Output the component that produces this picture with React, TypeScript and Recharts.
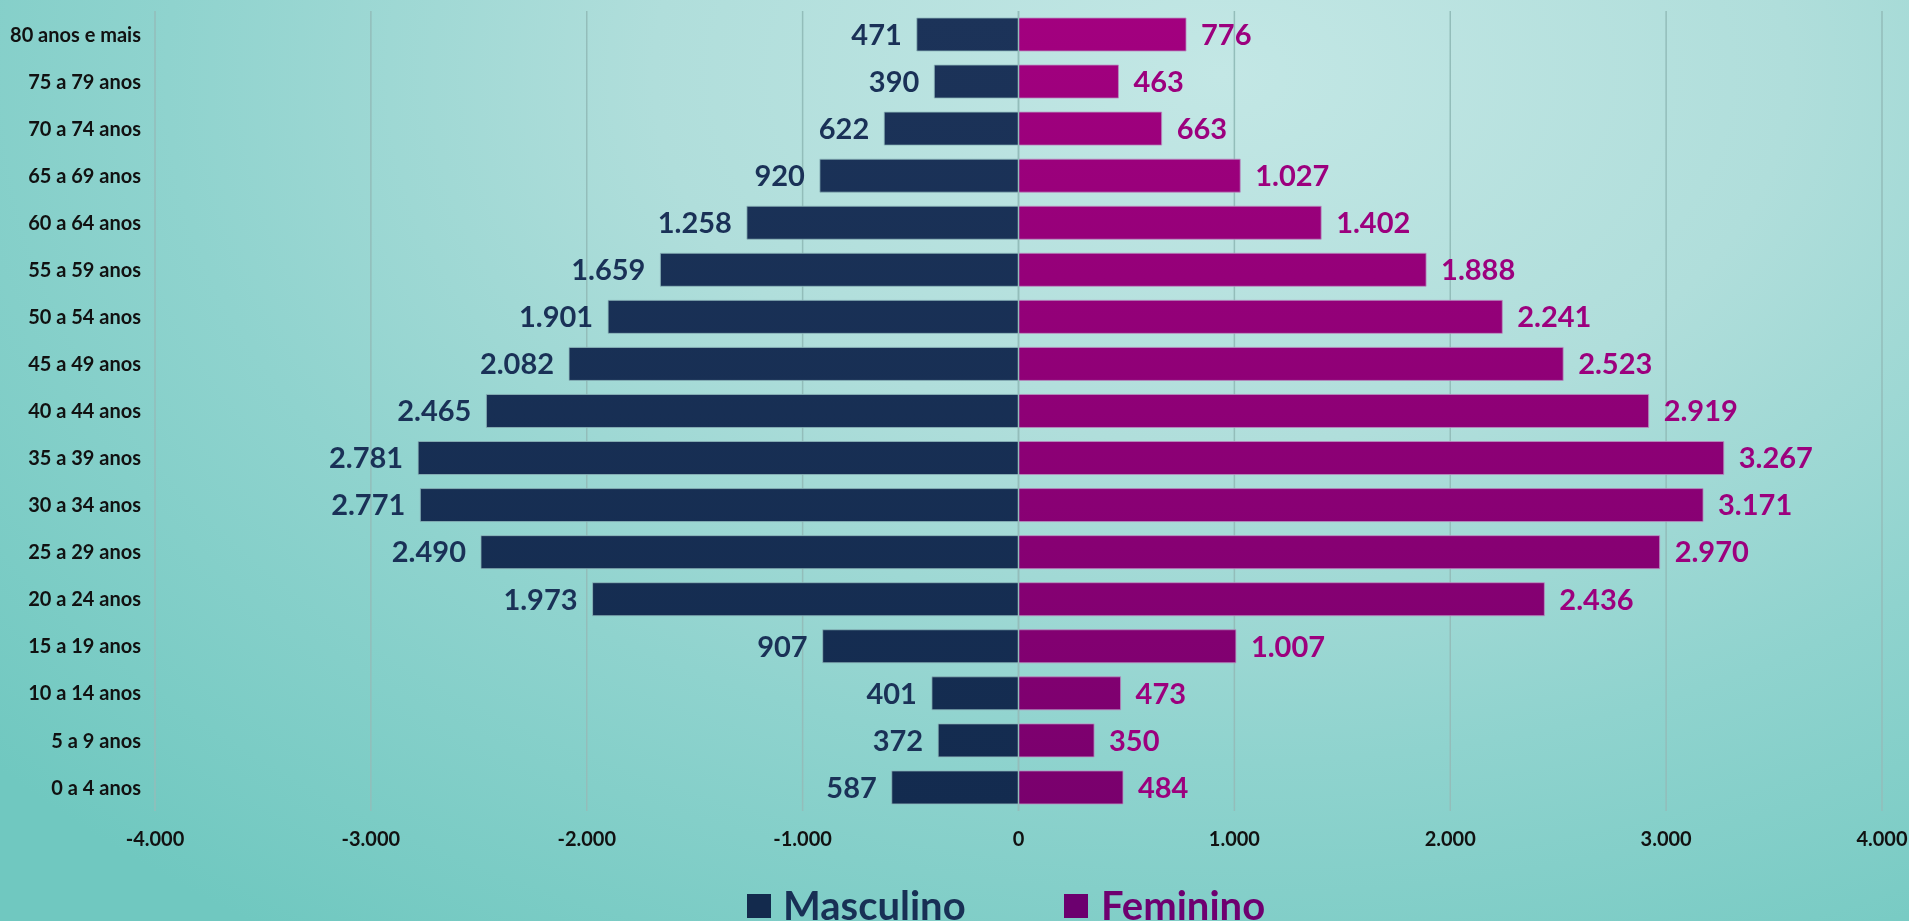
import React from "react";
import { BarChart, Bar, XAxis, YAxis, CartesianGrid, LabelList, ReferenceLine } from "recharts";

const faixas = [
  "80 anos e mais", "75 a 79 anos", "70 a 74 anos", "65 a 69 anos", "60 a 64 anos",
  "55 a 59 anos", "50 a 54 anos", "45 a 49 anos", "40 a 44 anos", "35 a 39 anos",
  "30 a 34 anos", "25 a 29 anos", "20 a 24 anos", "15 a 19 anos", "10 a 14 anos",
  "5 a 9 anos", "0 a 4 anos",
];
const masculino = [471, 390, 622, 920, 1258, 1659, 1901, 2082, 2465, 2781, 2771, 2490, 1973, 907, 401, 372, 587];
const feminino = [776, 463, 663, 1027, 1402, 1888, 2241, 2523, 2919, 3267, 3171, 2970, 2436, 1007, 473, 350, 484];
const xTicks = [-4000, -3000, -2000, -1000, 0, 1000, 2000, 3000, 4000];

// masculino goes to the left, so it is stored negative in the table
const data = faixas.map((f, i) => ({ faixa: f, masc: -masculino[i], fem: feminino[i] }));

const fmt = (v: any) => {
  const n = Number(v);
  const s = String(Math.abs(n)).replace(/\B(?=(\d{3})+(?!\d))/g, ".");
  return n < 0 ? "-" + s : s;
};
const fmtAbs = (v: any) => fmt(Math.abs(Number(v)));

const FONT = "Lato, 'Open Sans', sans-serif";
const NAVY = "#1a3157";
const MAGENTA = "#9c007e";

export default function App() {
  return (
    <div
      style={{
        position: "fixed", left: 0, top: 0, width: 1909, height: 921, overflow: "hidden",
        fontFamily: FONT,
        background:
          "radial-gradient(ellipse 85% 115% at 64% 8%, #c3e7e5 0%, #b0dedb 35%, #8fd3ce 65%, #70c8c0 100%)",
      }}
    >
      <BarChart
        width={1909}
        height={921}
        data={data}
        layout="vertical"
        stackOffset="sign"
        barSize={33}
        margin={{ top: 11, right: 27, left: 0, bottom: 70 }}
      >
        <defs>
          <linearGradient id="femGrad" gradientUnits="userSpaceOnUse" x1="0" y1="11" x2="0" y2="811">
            <stop offset="0%" stopColor="#a3007f" />
            <stop offset="100%" stopColor="#79006d" />
          </linearGradient>
          <linearGradient id="mascGrad" gradientUnits="userSpaceOnUse" x1="0" y1="11" x2="0" y2="811">
            <stop offset="0%" stopColor="#1c3359" />
            <stop offset="100%" stopColor="#132b4f" />
          </linearGradient>
        </defs>
        <CartesianGrid horizontal={false} stroke="#93bdba" strokeWidth={1.5} />
        <XAxis
          type="number"
          domain={[-4000, 4000]}
          ticks={xTicks}
          tickFormatter={fmt}
          axisLine={false}
          tickLine={false}
          tickMargin={15}
          height={40}
          tick={{ fill: "#111", fontSize: 20, fontWeight: 700, fontFamily: FONT }}
        />
        <YAxis
          type="category"
          dataKey="faixa"
          width={155}
          axisLine={false}
          tickLine={false}
          tickMargin={8}
          interval={0}
          tick={{ fill: "#111", fontSize: 20, fontWeight: 700, fontFamily: FONT }}
        />
        <Bar dataKey="masc" stackId="a" fill="url(#mascGrad)" stroke="#8fb9bd" strokeWidth={0.8} isAnimationActive={false}>
          <LabelList
            dataKey="masc"
            position="right"
            offset={15}
            formatter={fmtAbs}
            style={{ fill: NAVY, fontSize: 29, fontWeight: 700, fontFamily: FONT }}
          />
        </Bar>
        <Bar dataKey="fem" stackId="a" fill="url(#femGrad)" stroke="#b98fc0" strokeWidth={0.8} isAnimationActive={false}>
          <LabelList
            dataKey="fem"
            position="right"
            offset={15}
            formatter={fmtAbs}
            style={{ fill: MAGENTA, fontSize: 29, fontWeight: 700, fontFamily: FONT }}
          />
        </Bar>
        <ReferenceLine x={0} stroke="#93bdba" strokeWidth={1.5} />
      </BarChart>
      <div style={{ position: "absolute", top: 885, left: 747, display: "flex", alignItems: "flex-start" }}>
        <div style={{ width: 24, height: 24, background: "#132a4d", marginTop: 9 }} />
        <span style={{ marginLeft: 12, fontSize: 40, lineHeight: 1, fontWeight: 700, color: "#183055" }}>Masculino</span>
      </div>
      <div style={{ position: "absolute", top: 885, left: 1064, display: "flex", alignItems: "flex-start" }}>
        <div style={{ width: 24, height: 24, background: "#6c006f", marginTop: 9 }} />
        <span style={{ marginLeft: 13, fontSize: 40, lineHeight: 1, fontWeight: 700, color: "#6e0070" }}>Feminino</span>
      </div>
    </div>
  );
}
